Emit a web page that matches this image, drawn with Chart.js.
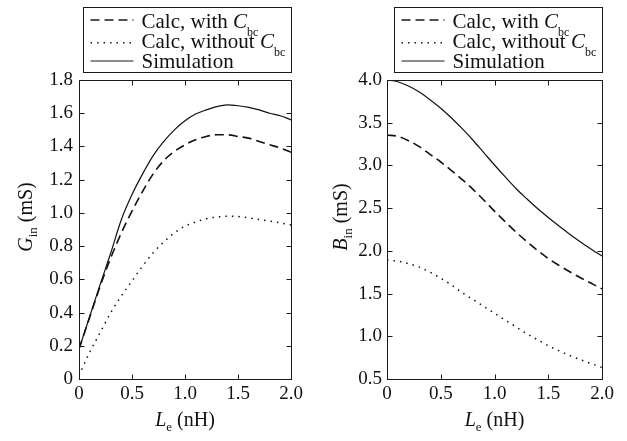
<!DOCTYPE html>
<html>
<head>
<meta charset="utf-8">
<title>Input admittance vs emitter inductance</title>
<script src="https://cdn.jsdelivr.net/npm/chart.js@4.4.0/dist/chart.umd.min.js"></script>
<style>
  body { margin: 0; background: #fff; }
  canvas { position: absolute; top: 0; }
  #gPanel { left: 0; }
  #bPanel { left: 320px; }
</style>
</head>
<body>
<canvas id="gPanel" width="320" height="441"></canvas>
<canvas id="bPanel" width="307" height="441"></canvas>
<script>
// Emitter inductance Le (nH)
const leValues = [0, 0.1, 0.2, 0.3, 0.4, 0.5, 0.6, 0.7, 0.8, 0.9, 1.0,
                  1.1, 1.2, 1.3, 1.4, 1.5, 1.6, 1.7, 1.8, 1.9, 2.0];

// Input conductance Gin (mS)
const ginWithCbc = [0.18, 0.37, 0.56, 0.73, 0.88, 1.01, 1.13, 1.235, 1.315, 1.37, 1.41,
                    1.44, 1.46, 1.47, 1.47, 1.46, 1.45, 1.43, 1.41, 1.39, 1.365];
const ginWithoutCbc = [0.02, 0.16, 0.28, 0.40, 0.50, 0.59, 0.68, 0.76, 0.825, 0.88, 0.92,
                       0.945, 0.965, 0.975, 0.98, 0.978, 0.97, 0.96, 0.95, 0.94, 0.927];
const ginSimulation = [0.18, 0.375, 0.57, 0.76, 0.96, 1.11, 1.235, 1.345, 1.43, 1.50, 1.555,
                       1.595, 1.62, 1.64, 1.65, 1.645, 1.635, 1.62, 1.60, 1.585, 1.56];

// Input susceptance Bin (mS)
const binWithCbc = [3.356, 3.34, 3.29, 3.22, 3.13, 3.04, 2.94, 2.835, 2.72, 2.595, 2.465,
                    2.34, 2.22, 2.11, 2.005, 1.91, 1.83, 1.755, 1.685, 1.62, 1.555];
const binWithoutCbc = [1.89, 1.88, 1.85, 1.81, 1.75, 1.68, 1.60, 1.51, 1.43, 1.35, 1.27,
                       1.19, 1.11, 1.03, 0.96, 0.89, 0.83, 0.775, 0.725, 0.68, 0.635];
const binSimulation = [4.00, 3.98, 3.93, 3.86, 3.77, 3.67, 3.555, 3.43, 3.295, 3.15, 3.005,
                       2.865, 2.73, 2.61, 2.495, 2.39, 2.29, 2.195, 2.105, 2.02, 1.94];

// Tick values
const leTicks = [0, 0.5, 1.0, 1.5, 2.0];
const ginTicks = [0, 0.2, 0.4, 0.6, 0.8, 1.0, 1.2, 1.4, 1.6, 1.8];
const binTicks = [0.5, 1.0, 1.5, 2.0, 2.5, 3.0, 3.5, 4.0];

const SERIF = '"Liberation Serif", "Times New Roman", serif';
const DASH = [9, 5];
const DOT = [1.5, 5];

const fmtTick = v => (v === 0 ? '0' : v.toFixed(1));

// draw a run of text pieces (italic symbol, subscript, plain) starting at x
function drawRich(ctx, parts, x, y) {
  let cx = x;
  parts.forEach(p => {
    ctx.font = p.font;
    ctx.fillText(p.t, cx, y + (p.dy || 0));
    cx += ctx.measureText(p.t).width;
  });
  return cx - x;
}

function measureRich(ctx, parts) {
  let w = 0;
  parts.forEach(p => { ctx.font = p.font; w += ctx.measureText(p.t).width; });
  return w;
}

function symbolLabel(sym, sub, rest) {
  return [
    { t: sym, font: 'italic 20px ' + SERIF },
    { t: sub, font: '13px ' + SERIF, dy: 5 },
    { t: rest, font: '20px ' + SERIF }
  ];
}

// box, inward ticks, axis titles and legend
function panelDecor(opts) {
  return {
    id: 'panelDecor',
    afterDraw(chart) {
      const ctx = chart.ctx;
      const ca = chart.chartArea;
      const xs = chart.scales.x, ys = chart.scales.y;
      const L = Math.round(ca.left) + 0.5, R = Math.round(ca.right) + 0.5;
      const T = Math.round(ca.top) + 0.5, B = Math.round(ca.bottom) + 0.5;
      ctx.save();
      ctx.strokeStyle = '#1a1a1a';
      ctx.lineWidth = 1;
      ctx.setLineDash([]);
      ctx.strokeRect(L, T, R - L, B - T);
      const tl = 5;
      ctx.beginPath();
      xs.ticks.forEach(t => {
        const px = Math.round(xs.getPixelForValue(t.value)) + 0.5;
        ctx.moveTo(px, B); ctx.lineTo(px, B - tl);
        ctx.moveTo(px, T); ctx.lineTo(px, T + tl);
      });
      ys.ticks.forEach(t => {
        const py = Math.round(ys.getPixelForValue(t.value)) + 0.5;
        ctx.moveTo(L, py); ctx.lineTo(L + tl, py);
        ctx.moveTo(R, py); ctx.lineTo(R - tl, py);
      });
      ctx.stroke();

      ctx.fillStyle = '#111';
      ctx.textBaseline = 'alphabetic';
      ctx.textAlign = 'left';

      // x title
      const xt = symbolLabel('L', 'e', ' (nH)');
      const xw = measureRich(ctx, xt);
      drawRich(ctx, xt, (ca.left + ca.right) / 2 - xw / 2, 426);

      // y title, rotated
      const yt = symbolLabel(opts.ySym, 'in', ' (mS)');
      const yw = measureRich(ctx, yt);
      ctx.save();
      ctx.translate(opts.yTitleX, 217);
      ctx.rotate(-Math.PI / 2);
      drawRich(ctx, yt, -yw / 2, 0);
      ctx.restore();

      // legend
      const bx = Math.round(ca.right) - 208 + 0.5, by = 7.5;
      ctx.strokeStyle = '#1a1a1a';
      ctx.lineWidth = 1;
      ctx.strokeRect(bx, by, 208, 65);
      const rows = [
        { dash: DASH, w: 1.6, ly: 20, base: 28.3, text: [
          { t: 'Calc, with ', font: '21px ' + SERIF },
          { t: 'C', font: 'italic 21px ' + SERIF },
          { t: 'bc', font: '12px ' + SERIF, dy: 7.5 }] },
        { dash: DOT, w: 1.5, ly: 42.7, base: 48.3, text: [
          { t: 'Calc, without ', font: '21px ' + SERIF },
          { t: 'C', font: 'italic 21px ' + SERIF },
          { t: 'bc', font: '12px ' + SERIF, dy: 7.5 }] },
        { dash: [], w: 1.2, ly: 61, base: 68.3, text: [
          { t: 'Simulation', font: '21px ' + SERIF }] }
      ];
      rows.forEach(r => {
        ctx.beginPath();
        ctx.setLineDash(r.dash);
        ctx.lineWidth = r.w;
        ctx.moveTo(bx + 7, r.ly);
        ctx.lineTo(bx + 50, r.ly);
        ctx.stroke();
        drawRich(ctx, r.text, bx + 58, r.base);
      });
      ctx.restore();
    }
  };
}

function makePanel(id, series, yTicks, yMin, yMax, opts) {
  const pts = vals => leValues.map((x, i) => ({ x: x, y: vals[i] }));
  return new Chart(document.getElementById(id), {
    type: 'line',
    data: {
      datasets: [
        { label: 'Calc, with Cbc', data: pts(series[0]), borderDash: DASH, borderWidth: 1.6 },
        { label: 'Calc, without Cbc', data: pts(series[1]), borderDash: DOT, borderWidth: 1.5 },
        { label: 'Simulation', data: pts(series[2]), borderWidth: 1.2 }
      ]
    },
    options: {
      responsive: false,
      animation: false,
      layout: { padding: { top: 80, right: opts.padRight, left: 0, bottom: 0 } },
      plugins: { legend: { display: false }, tooltip: { enabled: false } },
      elements: {
        point: { radius: 0 },
        line: { borderColor: '#111', cubicInterpolationMode: 'monotone', fill: false }
      },
      scales: {
        x: {
          type: 'linear', min: 0, max: 2,
          afterBuildTicks: s => { s.ticks = leTicks.map(v => ({ value: v })); },
          afterFit: s => { s.height = 62; },
          grid: { display: false, drawTicks: false },
          border: { display: false },
          ticks: { color: '#111', font: { family: SERIF, size: 19 }, padding: 4,
                   maxRotation: 0, autoSkip: false, callback: fmtTick }
        },
        y: {
          type: 'linear', min: yMin, max: yMax,
          afterBuildTicks: s => { s.ticks = yTicks.map(v => ({ value: v })); },
          afterFit: s => { s.width = opts.yWidth; },
          grid: { display: false, drawTicks: false },
          border: { display: false },
          ticks: { color: '#111', font: { family: SERIF, size: 19 }, padding: opts.tickPad,
                   autoSkip: false, callback: fmtTick }
        }
      }
    },
    plugins: [panelDecor(opts)]
  });
}

makePanel('gPanel', [ginWithCbc, ginWithoutCbc, ginSimulation], ginTicks, 0, 1.8,
  { padRight: 29, yWidth: 79, tickPad: 6, ySym: 'G', yTitleX: 32 });
makePanel('bPanel', [binWithCbc, binWithoutCbc, binSimulation], binTicks, 0.5, 4.0,
  { padRight: 25, yWidth: 67, tickPad: 5, ySym: 'B', yTitleX: 27 });
</script>
</body>
</html>
